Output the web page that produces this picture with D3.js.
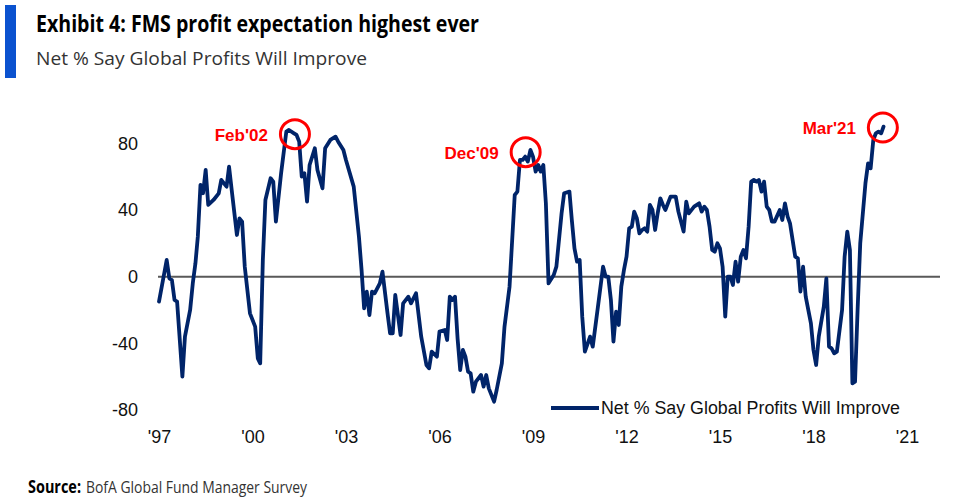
<!DOCTYPE html>
<html><head><meta charset="utf-8">
<script src="https://cdn.jsdelivr.net/npm/d3@7"></script>
<style>html,body{margin:0;padding:0;background:#fff;} svg{display:block;}</style>
</head><body><svg id="c" width="960" height="503"></svg>
<script>
const months = ["1997-12","1998-03","1998-04","1998-05","1998-06","1998-07","1998-09","1998-10","1998-12",
"1999-01","1999-02","1999-03","1999-04","1999-05","1999-06","1999-07","1999-09","1999-11","1999-12",
"2000-02","2000-03","2000-04","2000-06","2000-07","2000-08","2000-09","2000-11",
"2001-01","2001-02","2001-03","2001-04","2001-05","2001-07","2001-08","2001-09","2001-11",
"2002-01","2002-02","2002-04","2002-05","2002-06","2002-07","2002-08","2002-09","2002-10","2002-12",
"2003-01","2003-03","2003-04","2003-06","2003-08","2003-09","2003-11","2003-12",
"2004-03","2004-05","2004-06","2004-07","2004-08","2004-09","2004-10","2004-11",
"2005-01","2005-02","2005-04","2005-05","2005-06","2005-07","2005-09","2005-10","2005-12",
"2006-01","2006-03","2006-05","2006-07","2006-08","2006-09","2006-11","2006-12",
"2007-02","2007-03","2007-04","2007-05","2007-06","2007-07","2007-08","2007-09","2007-10","2007-11","2007-12",
"2008-01","2008-02","2008-04","2008-05","2008-06","2008-07","2008-09","2008-10","2008-12",
"2009-01","2009-03","2009-05","2009-06","2009-07","2009-08","2009-09","2009-10","2009-11","2009-12",
"2010-01","2010-02","2010-03","2010-04","2010-05","2010-06","2010-08","2010-09","2010-11","2010-12",
"2011-02","2011-03","2011-04","2011-05","2011-06","2011-07","2011-08","2011-10","2011-11",
"2012-01","2012-03","2012-04","2012-05","2012-06","2012-07","2012-08","2012-09","2012-10","2012-11","2012-12",
"2013-01","2013-02","2013-03","2013-04","2013-05","2013-06","2013-07","2013-08","2013-09","2013-10","2013-11","2013-12",
"2014-01","2014-02","2014-03","2014-05","2014-07","2014-08","2014-10","2014-11","2014-12",
"2015-02","2015-04","2015-05","2015-06","2015-07","2015-08","2015-09","2015-10","2015-11","2015-12",
"2016-01","2016-02","2016-03","2016-04","2016-05","2016-06","2016-07","2016-08","2016-09","2016-10","2016-11","2016-12",
"2017-01","2017-02","2017-03","2017-04","2017-05","2017-06","2017-07","2017-08","2017-09","2017-11","2017-12",
"2018-01","2018-02","2018-03","2018-05","2018-06","2018-07","2018-08","2018-09","2018-11","2018-12",
"2019-01","2019-02","2019-04","2019-05","2019-06","2019-07","2019-08","2019-09","2019-11","2019-12",
"2020-01","2020-02","2020-03","2020-04","2020-05","2020-06","2020-08","2020-09","2020-10","2020-11","2020-12",
"2021-01","2021-02","2021-03"];
const values = [-15,10,-1,-2,-14,-15,-60,-36,-20,
-4,8,24,55,50,64,43,46,50,58,
54,66,52,25,35,33,6,-22,
-30,-49,-52,10,46,59,57,33,62,
87,88,86,85,81,60,62,45,67,77,
64,53,77,82,84,81,76,70,
54,24,4,-19,-9,-23,-9,-10,
-4,3,-22,-34,-34,-11,-35,-16,-12,
-16,-10,-36,-53,-55,-45,-48,-33,
-32,-38,-12,-14,-12,-37,-56,-44,-48,-57,-58,
-69,-63,-59,-66,-59,-67,-75,-68,-52,
-30,-6,49,51,70,70,72,69,76,72,
63,67,63,67,44,-4,1,6,38,50,
51,34,17,9,10,-24,-45,-36,-42,
-18,6,0,0,-14,-39,-21,-29,-6,4,12,
29,30,39,35,26,28,29,27,43,40,28,38,
47,43,40,48,48,39,27,45,38,
42,44,39,42,40,30,16,15,20,17,
6,-24,0,0,-5,9,-3,12,16,11,30,57,
58,57,58,51,57,42,40,33,33,40,34,
44,36,32,12,11,-9,6,-12,-28,-44,
-53,-36,-18,-1,-42,-43,-46,-45,-20,12,
27,16,-64,-63,-20,20,56,68,65,82,86,
87,86,90];
const yTicks = [-80, -40, 0, 40, 80];
const xTickMonths = ["1997-12","2000-12","2003-12","2006-12","2009-12","2012-12","2015-12","2018-12","2021-12"];
const xTickLabels = ["'97","'00","'03","'06","'09","'12","'15","'18","'21"];
const annoLabels = ["Feb'02", "Dec'09", "Mar'21"];
const annoDates = ["2002-04-12", "2009-09-06", "2021-02-21"];
const annoValues = [85.5, 74.7, 89.5];
const seriesName = "Net % Say Global Profits Will Improve";
const titleText = "Exhibit 4: FMS profit expectation highest ever";
const subtitleText = "Net % Say Global Profits Will Improve";
const sourceLabel = "Source:";
const sourceText = "BofA Global Fund Manager Survey";

const pm = d3.timeParse("%Y-%m"), pd = d3.timeParse("%Y-%m-%d");
const data = months.map((m, i) => ({date: pm(m), value: values[i]}));

const svg = d3.select("#c");
const navy = "#002469";
const chartFont = "Liberation Sans, Arial, sans-serif";

// header
svg.append("rect").attr("x", 5).attr("y", 5).attr("width", 11).attr("height", 73).attr("fill", "#0b52cf");
svg.append("text").attr("x", 36).attr("y", 32)
  .attr("font-family", "Open Sans, sans-serif").attr("font-weight", 700).attr("font-size", 22.5)
  .attr("textLength", 443).attr("lengthAdjust", "spacingAndGlyphs").attr("fill", "#000")
  .text(titleText);
svg.append("text").attr("x", 36).attr("y", 65)
  .attr("font-family", "Open Sans, sans-serif").attr("font-weight", 400).attr("font-size", 19)
  .attr("textLength", 331).attr("lengthAdjust", "spacingAndGlyphs").attr("fill", "#333")
  .text(subtitleText);

// scales
const x = d3.scaleTime().domain([pm("1997-12"), pm("2021-12")]).range([159, 907]);
const y = d3.scaleLinear().domain([-80, 80]).range([410, 143.3]);
const plotRight = 940;

// zero line
svg.append("line").attr("x1", x(pm("1997-12")) - 1).attr("x2", plotRight)
  .attr("y1", y(0)).attr("y2", y(0)).attr("stroke", "#595959").attr("stroke-width", 2);

// y axis
const ya = svg.append("g").attr("transform", "translate(141,0)")
  .call(d3.axisLeft(y).tickValues(yTicks).tickSize(0).tickPadding(3).tickFormat(d => String(d)));
ya.select(".domain").remove();
ya.selectAll("text").attr("font-family", chartFont).attr("font-size", 18).attr("fill", "#111");

// x axis
const xa = svg.append("g").attr("transform", "translate(0,425)")
  .call(d3.axisBottom(x).tickValues(xTickMonths.map(pm)).tickSize(0).tickPadding(5)
    .tickFormat((d, i) => xTickLabels[i]));
xa.select(".domain").remove();
xa.selectAll("text").attr("font-family", chartFont).attr("font-size", 18).attr("fill", "#111");

// line
svg.append("path").datum(data)
  .attr("fill", "none").attr("stroke", navy).attr("stroke-width", 3.8)
  .attr("stroke-linejoin", "round").attr("stroke-linecap", "round")
  .attr("d", d3.line().x(d => x(d.date)).y(d => y(d.value)));

// annotations
annoLabels.forEach((lab, i) => {
  const cx = x(pd(annoDates[i])), cy = y(annoValues[i]);
  svg.append("circle").attr("cx", cx).attr("cy", cy).attr("r", 14.5)
    .attr("fill", "none").attr("stroke", "#ff0000").attr("stroke-width", 3);
  svg.append("text").attr("x", cx - 27).attr("y", cy + 1).attr("dy", "0.35em")
    .attr("text-anchor", "end").attr("font-family", chartFont)
    .attr("font-weight", 700).attr("font-size", 17).attr("fill", "#ff0000").text(lab);
});

// legend
svg.append("line").attr("x1", 551).attr("x2", 599).attr("y1", 408).attr("y2", 408)
  .attr("stroke", navy).attr("stroke-width", 3.8);
svg.append("text").attr("x", 601).attr("y", 408).attr("dy", "0.35em")
  .attr("font-family", chartFont).attr("font-size", 18).attr("fill", "#111")
  .attr("textLength", 299).attr("lengthAdjust", "spacingAndGlyphs")
  .text(seriesName);

// source
svg.append("text").attr("x", 28).attr("y", 493)
  .attr("font-family", "Open Sans, sans-serif").attr("font-size", 17).attr("font-weight", 700).attr("fill", "#000")
  .attr("textLength", 53).attr("lengthAdjust", "spacingAndGlyphs").text(sourceLabel);
svg.append("text").attr("x", 86).attr("y", 493)
  .attr("font-family", "Open Sans, sans-serif").attr("font-size", 17).attr("fill", "#333")
  .attr("textLength", 221).attr("lengthAdjust", "spacingAndGlyphs").text(sourceText);
</script>
</body></html>
